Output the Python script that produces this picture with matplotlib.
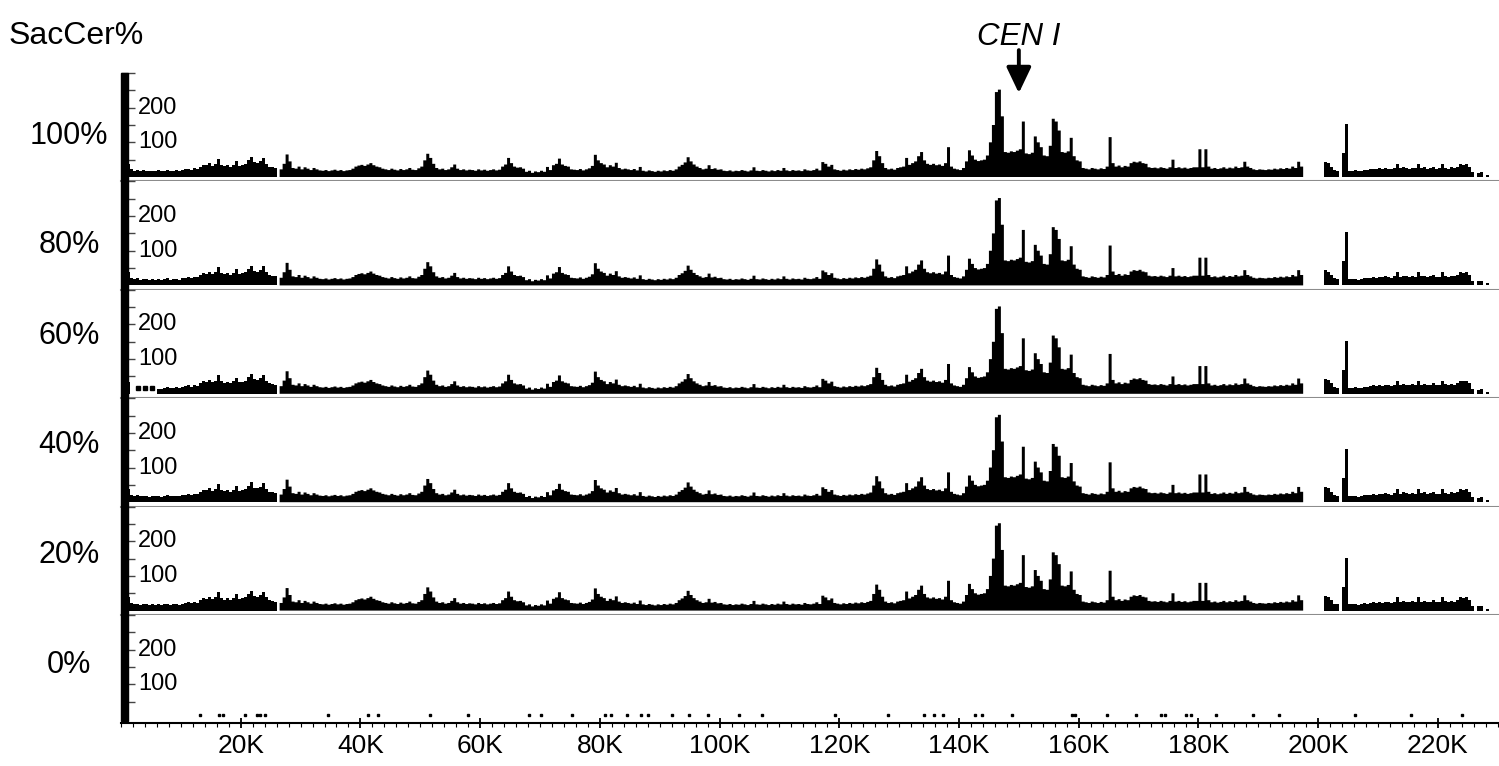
import numpy as np
import matplotlib.pyplot as plt
from matplotlib.patches import Rectangle

plt.rcParams['font.family'] = ['Liberation Sans', 'DejaVu Sans']

### Data (chromosome I, read coverage in 0.5 kb bins)
nan = np.nan
bin_kb = 0.5
chrom_len = 230.218

# coverage profile shared by the 100/80/40/20 % tracks
cov_full = [
    30, 25, 38, 22, 18, 20, 17, 19, 18, 16, 18, 17, 19, 16, 18, 20, 17, 18, 19, 17,      # 0-10K
    20, 22, 24, 21, 25, 23, 30, 36, 34, 40, 33, 38, 53, 36, 32, 35, 30, 36, 47, 33,      # 10-20K
    35, 38, 48, 57, 42, 40, 45, 55, 38, 30, 28, 26, nan, 22, 38, 65, 45, 26, 24, 30,     # 20-30K
    22, 28, 24, 20, 26, 22, 19, 18, 20, 17, 19, 21, 18, 20, 17, 19, 20, 24, 30, 33,      # 30-40K
    35, 32, 36, 40, 34, 30, 28, 24, 22, 20, 24, 21, 19, 23, 20, 22, 26, 21, 20, 25,      # 40-50K
    30, 48, 67, 55, 38, 26, 22, 24, 20, 22, 28, 36, 24, 20, 22, 19, 21, 20, 18, 22,      # 50-60K
    19, 21, 18, 20, 22, 19, 21, 30, 36, 55, 40, 30, 27, 28, 24, 15, 18, 12, 16, 14,      # 60-70K
    18, 15, 29, 20, 34, 38, 53, 36, 32, 30, 22, 21, 20, 23, 19, 22, 25, 32, 64, 48,      # 70-80K
    40, 36, 28, 34, 30, 41, 26, 22, 24, 22, 20, 23, 19, 29, 18, 16, 19, 17, 15, 18,      # 80-90K
    16, 19, 17, 20, 18, 22, 30, 35, 42, 57, 45, 36, 30, 26, 22, 24, 34, 23, 25, 21,      # 90-100K
    22, 18, 17, 19, 16, 18, 17, 20, 18, 16, 19, 28, 18, 17, 20, 18, 16, 19, 17, 20,      # 100-110K
    18, 26, 19, 17, 20, 18, 19, 17, 22, 19, 18, 20, 24, 19, 43, 38, 30, 35, 22, 20,      # 110-120K
    18, 21, 19, 22, 20, 23, 21, 24, 22, 25, 28, 48, 75, 60, 40, 26, 22, 24, 21, 26,      # 120-130K
    28, 30, 55, 35, 40, 45, 60, 72, 48, 38, 35, 38, 34, 36, 32, 40, 86, 30, 24, 22,      # 130-140K
    20, 26, 45, 77, 62, 50, 46, 48, 50, 62, 100, 150, 245, 252, 175, 72, 70, 74, 72, 76,  # 140-150K
    80, 160, 68, 66, 70, 117, 100, 86, 62, 60, 90, 168, 160, 134, 72, 70, 74, 113, 60, 48,  # 150-160K
    45, 26, 24, 22, 26, 24, 22, 25, 23, 30, 115, 40, 30, 33, 28, 32, 30, 40, 44, 42,     # 160-170K
    45, 40, 38, 28, 26, 27, 25, 28, 26, 24, 28, 50, 26, 28, 25, 27, 24, 26, 28, 28,      # 170-180K
    80, 28, 80, 30, 24, 26, 23, 25, 28, 24, 27, 25, 30, 26, 28, 44, 30, 26, 22, 20,      # 180-190K
    22, 21, 20, 22, 21, 24, 22, 25, 23, 26, 24, 30, 26, 44, 30, nan, nan, nan, nan, nan,  # 190-200K
    nan, nan, 43, 40, 30, 20, 18, nan, 69, 153, 18, 18, 19, 16, 18, 21, 20, 22, 24, 22,  # 200-210K
    25, 23, 26, 24, 22, 26, 38, 25, 28, 26, 24, 27, 25, 38, 26, 28, 24, 26, 30, 24,      # 210-220K
    25, 38, 27, 24, 28, 26, 30, 38, 36, 38, 30, 14, nan, 12, 14, nan, 6, nan, nan, nan,  # 220-230K
]

# the 60% track differs only at the left end (0-7K)
start_60 = [30, 28, 34, nan, nan, nan, nan, nan, nan, nan, nan, nan, 14, 15]
dots_60_kb = [2.9, 4.0, 5.1]
dots_60_val = 16

# the 0% track has only isolated low reads
dots_0_kb = [13.2, 16.4, 17.0, 20.7, 22.8, 23.3, 24.0, 34.5, 41.3, 42.9, 51.7, 57.9,
             68.1, 70.1, 75.4, 80.9, 81.9, 84.5, 86.9, 88.1, 92.1, 94.9, 98.1, 103.3,
             107.1, 119.3, 128.2, 134.1, 135.8, 137.3, 142.7, 143.9, 148.9, 158.9, 159.3,
             164.7, 169.6, 173.7, 174.5, 177.9, 178.7, 183.0, 189.2, 193.4, 206.2, 215.5, 224.0]
dots_0_val = 12

track_labels = ['100%', '80%', '60%', '40%', '20%', '0%']
cen_kb = 150.0

cov_60 = list(cov_full)
cov_60[:len(start_60)] = start_60
tracks = [cov_full, cov_full, cov_60, cov_full, cov_full, None]

### Layout (pixels of a 1499x766 picture)
W, H = 1499, 766
left_px = 121
panel_top0 = 73
panel_h = 108.4
label_y_px = [136, 245, 336, 445, 555, 665]

fig = plt.figure(figsize=(W / 100, H / 100), dpi=100)

n_bins = len(cov_full)
edges = np.arange(n_bins + 1) * bin_kb
xs = np.column_stack([edges[:-1], edges[1:]]).ravel()

axes = []
for k, lab in enumerate(track_labels):
    top = panel_top0 + panel_h * k
    ax = fig.add_axes([left_px / W, 1 - (top + panel_h) / H, 1 - left_px / W, panel_h / H])
    axes.append(ax)
    ax.set_xlim(0, chrom_len)
    ax.set_ylim(-12.7, 300)

    if tracks[k] is not None:
        ys = np.repeat(np.array(tracks[k], dtype=float), 2)
        ax.fill_between(xs, 0, ys, color='black', linewidth=0)
    if k == 2:
        ax.plot(dots_60_kb, [dots_60_val] * len(dots_60_kb), 's', color='black', ms=2.2)
    if k == 5:
        ax.plot(dots_0_kb, [dots_0_val] * len(dots_0_kb), 's', color='black', ms=1.5)

    for s in ['top', 'right', 'left']:
        ax.spines[s].set_visible(False)
    ax.spines['bottom'].set_color('#8c8c8c')
    ax.spines['bottom'].set_linewidth(1.5)

    ax.set_yticks([50, 100, 150, 200, 250, 300])
    ax.tick_params(axis='y', direction='in', length=10, width=1, color='#444444',
                   labelleft=False)
    for v in (100, 200):
        ax.text(0.0123, v, str(v), transform=ax.get_yaxis_transform(),
                ha='left', va='center', fontsize=17)

    fig.text(69 / W, 1 - label_y_px[k] / H, lab, ha='center', va='center', fontsize=22)

    if k < 5:
        ax.set_xticks([])
    else:
        ax.spines['bottom'].set_color('black')
        ax.set_xticks(np.arange(20, 221, 20))
        ax.set_xticklabels([f'{v}K' for v in range(20, 221, 20)], fontsize=19)
        ax.set_xticks(np.arange(0, 231, 2), minor=True)
        ax.tick_params(axis='x', which='major', direction='inout', length=7, width=1.3, pad=4)
        ax.tick_params(axis='x', which='minor', direction='out', length=3, width=0.8)

# thick black bar on the left, running through all panels
fig.add_artist(Rectangle((120.7 / W, 1 - 721 / H), 7.6 / W, (721 - panel_top0) / H,
                         transform=fig.transFigure, color='black', zorder=10))

fig.text(9 / W, 1 - 43.5 / H, 'SacCer%', ha='left', va='baseline', fontsize=23)

# centromere marker
top_ax = axes[0]
top_ax.annotate('', xy=(cen_kb, 242), xytext=(cen_kb, 366), annotation_clip=False,
                arrowprops=dict(arrowstyle='-|>,head_width=0.5,head_length=1.05',
                                mutation_scale=15, lw=2.8, color='black',
                                shrinkA=0, shrinkB=0))
top_ax.text(cen_kb, 381, 'CEN I', ha='center', va='baseline', fontsize=22.5,
            style='italic', clip_on=False)

fig.savefig('out.png', dpi=100)
